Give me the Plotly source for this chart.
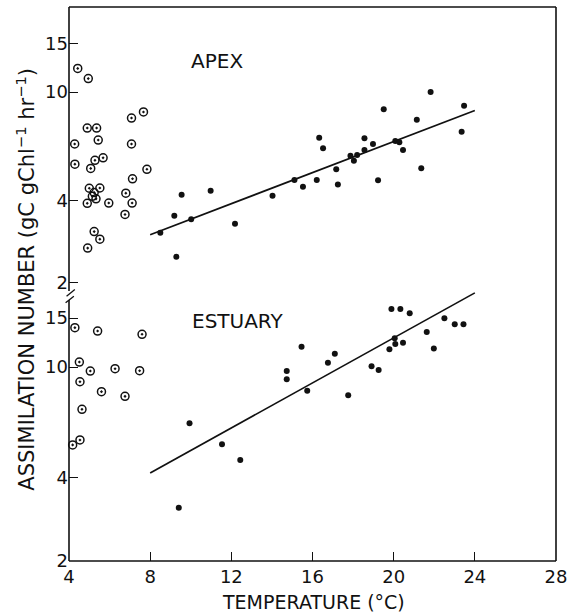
import plotly.graph_objects as go

# ---------------- data ----------------
# APEX: open circles (low-temperature samples)
apex_open_t = [4.43, 4.95, 7.67, 7.08, 4.90, 5.36, 5.44, 4.28, 7.08, 5.68, 5.28, 4.29, 5.07,
               7.84, 7.13, 5.00, 5.52, 6.80, 5.24, 5.33, 4.90, 5.96, 7.11, 6.76, 5.24, 5.52,
               4.92, 5.15]
apex_open_a = [12.2, 11.2, 8.45, 8.03, 7.38, 7.38, 6.67, 6.45, 6.45, 5.74, 5.62, 5.44, 5.25,
               5.21, 4.81, 4.44, 4.45, 4.26, 4.28, 4.06, 3.91, 3.92, 3.92, 3.56, 3.08, 2.89,
               2.68, 4.15]
# APEX: filled dots
apex_t = [8.50, 9.19, 9.55, 10.02, 9.29, 10.98, 12.18, 14.03, 15.11, 15.53, 16.21, 16.33,
          16.52, 17.17, 17.25, 17.87, 18.04, 18.20, 18.56, 18.56, 18.98, 19.23, 19.51, 20.08,
          20.28, 20.46, 21.14, 21.36, 21.82, 23.35, 23.47]
apex_a = [3.05, 3.52, 4.20, 3.42, 2.49, 4.35, 3.29, 4.17, 4.76, 4.50, 4.76, 6.80,
          6.22, 5.21, 4.58, 5.84, 5.60, 5.88, 6.77, 6.13, 6.45, 4.75, 8.64, 6.61,
          6.54, 6.13, 7.91, 5.26, 10.0, 7.15, 8.91]
apex_fit_t = [8, 24]
apex_fit_a = [3.0, 8.55]

# ESTUARY: open circles
est_open_t = [4.29, 5.41, 7.60, 4.51, 5.05, 6.27, 7.48, 4.54, 5.60, 6.76, 4.64, 4.54, 4.18]
est_open_a = [13.86, 13.48, 13.12, 10.42, 9.67, 9.86, 9.70, 8.85, 8.15, 7.84, 7.04, 5.46, 5.24]
# ESTUARY: filled dots
est_t = [9.94, 9.41, 11.54, 12.44, 14.73, 14.73, 15.46, 15.74, 16.76, 17.10, 17.76, 18.91,
         19.26, 19.79, 19.89, 20.05, 20.08, 20.33, 20.46, 20.79, 21.63, 21.98, 22.50, 23.01,
         23.44]
est_a = [6.27, 3.11, 5.27, 4.62, 9.67, 9.03, 11.84, 8.22, 10.36, 11.17, 7.91, 10.06,
         9.76, 11.59, 16.19, 12.69, 12.11, 16.19, 12.24, 15.62, 13.37, 11.65, 14.98, 14.26,
         14.26]
est_fit_t = [8, 24]
est_fit_a = [4.15, 18.5]

x_ticks = [4, 8, 12, 16, 20, 24, 28]
y_ticks = [2, 4, 10, 15]
panel_labels = ["APEX", "ESTUARY"]

FONT = "DejaVu Sans"
BLACK = "#111111"

fig = go.Figure()

open_marker = dict(symbol="circle-open-dot", size=8, color=BLACK, line=dict(width=1.5, color=BLACK))
dot_marker = dict(symbol="circle", size=6, color=BLACK)

# APEX panel (y2)
fig.add_trace(go.Scatter(x=apex_fit_t, y=apex_fit_a, mode="lines", line=dict(color=BLACK, width=1.7),
                         xaxis="x", yaxis="y2", showlegend=False))
fig.add_trace(go.Scatter(x=apex_open_t, y=apex_open_a, mode="markers", marker=open_marker,
                         xaxis="x", yaxis="y2", cliponaxis=False, showlegend=False))
fig.add_trace(go.Scatter(x=apex_t, y=apex_a, mode="markers", marker=dot_marker,
                         xaxis="x", yaxis="y2", cliponaxis=False, showlegend=False))

# ESTUARY panel (y)
fig.add_trace(go.Scatter(x=est_fit_t, y=est_fit_a, mode="lines", line=dict(color=BLACK, width=1.7),
                         xaxis="x", yaxis="y", showlegend=False))
fig.add_trace(go.Scatter(x=est_open_t, y=est_open_a, mode="markers", marker=open_marker,
                         xaxis="x", yaxis="y", cliponaxis=False, showlegend=False))
fig.add_trace(go.Scatter(x=est_t, y=est_a, mode="markers", marker=dot_marker,
                         xaxis="x", yaxis="y", cliponaxis=False, showlegend=False))

split = 0.4874
tickfont = dict(family=FONT, size=18, color=BLACK)

fig.update_layout(
    width=574, height=615,
    margin=dict(l=69, r=16, t=7, b=54),
    paper_bgcolor="white", plot_bgcolor="white",
    font=dict(family=FONT, color=BLACK),
    xaxis=dict(range=[4, 28], tickvals=x_ticks, ticks="inside", ticklen=9, tickwidth=1.3,
               tickcolor=BLACK, showgrid=False, zeroline=False, showline=False,
               tickfont=tickfont, anchor="y", ticklabelstandoff=3),
    yaxis=dict(type="log", range=[0.301, 1.274], domain=[0, split], tickvals=y_ticks,
               ticktext=[str(v) for v in y_ticks], ticks="inside", ticklen=9, tickwidth=1.3,
               tickcolor=BLACK, showgrid=False, zeroline=False, showline=False,
               tickfont=tickfont, anchor="x"),
    yaxis2=dict(type="log", range=[0.2711, 1.3114], domain=[split, 1], tickvals=y_ticks,
                ticktext=[str(v) for v in y_ticks], ticks="inside", ticklen=9, tickwidth=1.3,
                tickcolor=BLACK, showgrid=False, zeroline=False, showline=False,
                tickfont=tickfont, anchor="x"),
)

# frame with axis break on the left
lw = 1.6
line = dict(color=BLACK, width=lw)
shapes = [
    dict(type="line", xref="paper", yref="paper", x0=0, x1=1, y0=1, y1=1, line=line),
    dict(type="line", xref="paper", yref="paper", x0=1, x1=1, y0=0, y1=1, line=line),
    dict(type="line", xref="paper", yref="paper", x0=0, x1=1, y0=0, y1=0, line=line),
    dict(type="line", xref="paper", yref="paper", x0=0, x1=0, y0=0.4874, y1=1, line=line),
    dict(type="line", xref="paper", yref="paper", x0=0, x1=0, y0=0, y1=0.4711, line=line),
    dict(type="line", xref="paper", yref="paper", x0=-0.005, x1=0.012, y0=0.478, y1=0.490, line=dict(color=BLACK, width=1.3)),
    dict(type="line", xref="paper", yref="paper", x0=-0.007, x1=0.010, y0=0.466, y1=0.478, line=dict(color=BLACK, width=1.3)),
]
fig.update_layout(shapes=shapes)

fig.add_annotation(x=11.31, y=1.1136, xref="x", yref="y2", text=panel_labels[0], showarrow=False,
                   font=dict(family=FONT, size=20, color=BLACK))
fig.add_annotation(x=12.32, y=1.166, xref="x", yref="y", text=panel_labels[1], showarrow=False,
                   font=dict(family=FONT, size=20, color=BLACK))

# axis titles
fig.add_annotation(x=0.503, y=-0.074, xref="paper", yref="paper", xanchor="center", yanchor="middle",
                   text="TEMPERATURE (°C)", showarrow=False,
                   font=dict(family=FONT, size=19, color=BLACK))
fig.add_annotation(x=-0.089, y=0.509, xref="paper", yref="paper", xanchor="center", yanchor="middle",
                   text="ASSIMILATION NUMBER (gC gChl<sup>−1</sup> hr<sup>−1</sup>)", textangle=-90,
                   showarrow=False, font=dict(family=FONT, size=21, color=BLACK))

fig.write_html("out.html")
